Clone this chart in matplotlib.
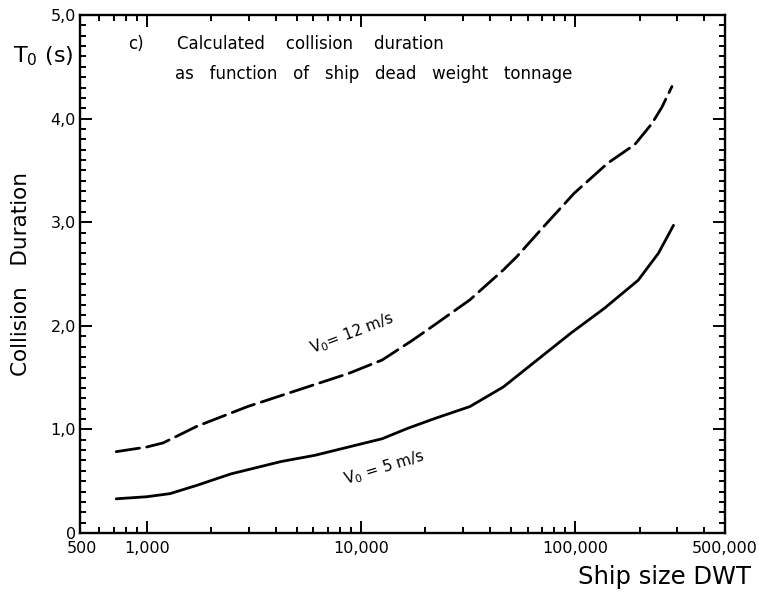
import numpy as np
import matplotlib.pyplot as plt
from matplotlib.ticker import FixedLocator, FixedFormatter, MultipleLocator, NullFormatter

# Datos (DWT, duración en s)
dwt_5 = [720, 1000, 1284, 1714, 2466, 4240, 6095, 8750, 12560, 16500, 22430, 32200,
         46200, 66400, 95500, 137000, 196700, 244400, 287500]
t_5 = [0.33, 0.35, 0.38, 0.46, 0.57, 0.69, 0.75, 0.83, 0.91, 1.01, 1.11, 1.22,
       1.41, 1.67, 1.93, 2.17, 2.44, 2.70, 2.97]

dwt_12 = [720, 1000, 1194, 1714, 2953, 5080, 8750, 12560, 17380, 22430, 32200, 46200,
          53500, 71400, 98900, 141800, 189700, 227500, 253800, 282700]
t_12 = [0.785, 0.83, 0.87, 1.03, 1.22, 1.38, 1.54, 1.67, 1.86, 2.02, 2.25, 2.54,
        2.67, 2.96, 3.28, 3.57, 3.75, 3.95, 4.11, 4.31]

x_ticks = [500, 1000, 10000, 100000, 500000]
x_labels = ['500', '1,000', '10,000', '100,000', '500,000']
y_ticks = [0, 1, 2, 3, 4, 5]
y_labels = ['0', '1,0', '2,0', '3,0', '4,0', '5,0']

fig = plt.figure(figsize=(7.59, 5.96), dpi=100)
ax = fig.add_axes([80 / 759, 1 - 533 / 596, 645 / 759, 518 / 596])

ax.plot(dwt_5, t_5, color='black', lw=2.0, solid_capstyle='round')
ax.plot(dwt_12, t_12, color='black', lw=2.0, dashes=(8.5, 2.6), dash_capstyle='round')

ax.set_xscale('log')
ax.set_xlim(488, 500000)
ax.set_ylim(0, 5)

ax.xaxis.set_major_locator(FixedLocator(x_ticks))
ax.xaxis.set_major_formatter(FixedFormatter(x_labels))
minor_x = [m * 10 ** e for e in range(2, 6) for m in range(2, 10)]
ax.xaxis.set_minor_locator(FixedLocator([v for v in minor_x if 500 < v < 500000]))
ax.xaxis.set_minor_formatter(NullFormatter())

ax.yaxis.set_major_locator(FixedLocator(y_ticks))
ax.yaxis.set_major_formatter(FixedFormatter(y_labels))
ax.yaxis.set_minor_locator(MultipleLocator(0.1))

ax.tick_params(which='both', direction='in', top=True, right=True, width=1.4)
ax.tick_params(which='major', length=8.5, labelsize=11.5)
ax.tick_params(axis='x', which='major', pad=6)
ax.tick_params(axis='y', which='major', pad=3)
ax.tick_params(which='minor', length=4.3)
for s in ax.spines.values():
    s.set_linewidth(1.7)

# las marcas de 500 y 500,000 quedan sobre el borde: sin raya
for t in (ax.xaxis.get_major_ticks()[0], ax.xaxis.get_major_ticks()[-1]):
    t.tick1line.set_visible(False)
    t.tick2line.set_visible(False)

ax.text(-0.011, 0.92, r'T$_0$ (s)', transform=ax.transAxes, ha='right', va='center', fontsize=16)
ax.set_ylabel('Collision   Duration', fontsize=15.5, labelpad=14)
fig.text(0.99, 0.032, 'Ship size DWT', ha='right', va='center', fontsize=17.5)

ax.text(0.0744, 0.944, 'c)', transform=ax.transAxes, fontsize=12, va='center')
ax.text(0.150, 0.944, 'Calculated    collision    duration', transform=ax.transAxes,
        fontsize=12, va='center')
ax.text(0.147, 0.886, 'as   function   of   ship   dead   weight   tonnage', transform=ax.transAxes,
        fontsize=12, va='center')

ax.text(9080, 1.93, r'V$_0$= 12 m/s', rotation=21, fontsize=11, ha='center', va='center')
ax.text(12800, 0.63, r'V$_0$ = 5 m/s', rotation=17, fontsize=11, ha='center', va='center')

fig.savefig('out.png', dpi=100)
